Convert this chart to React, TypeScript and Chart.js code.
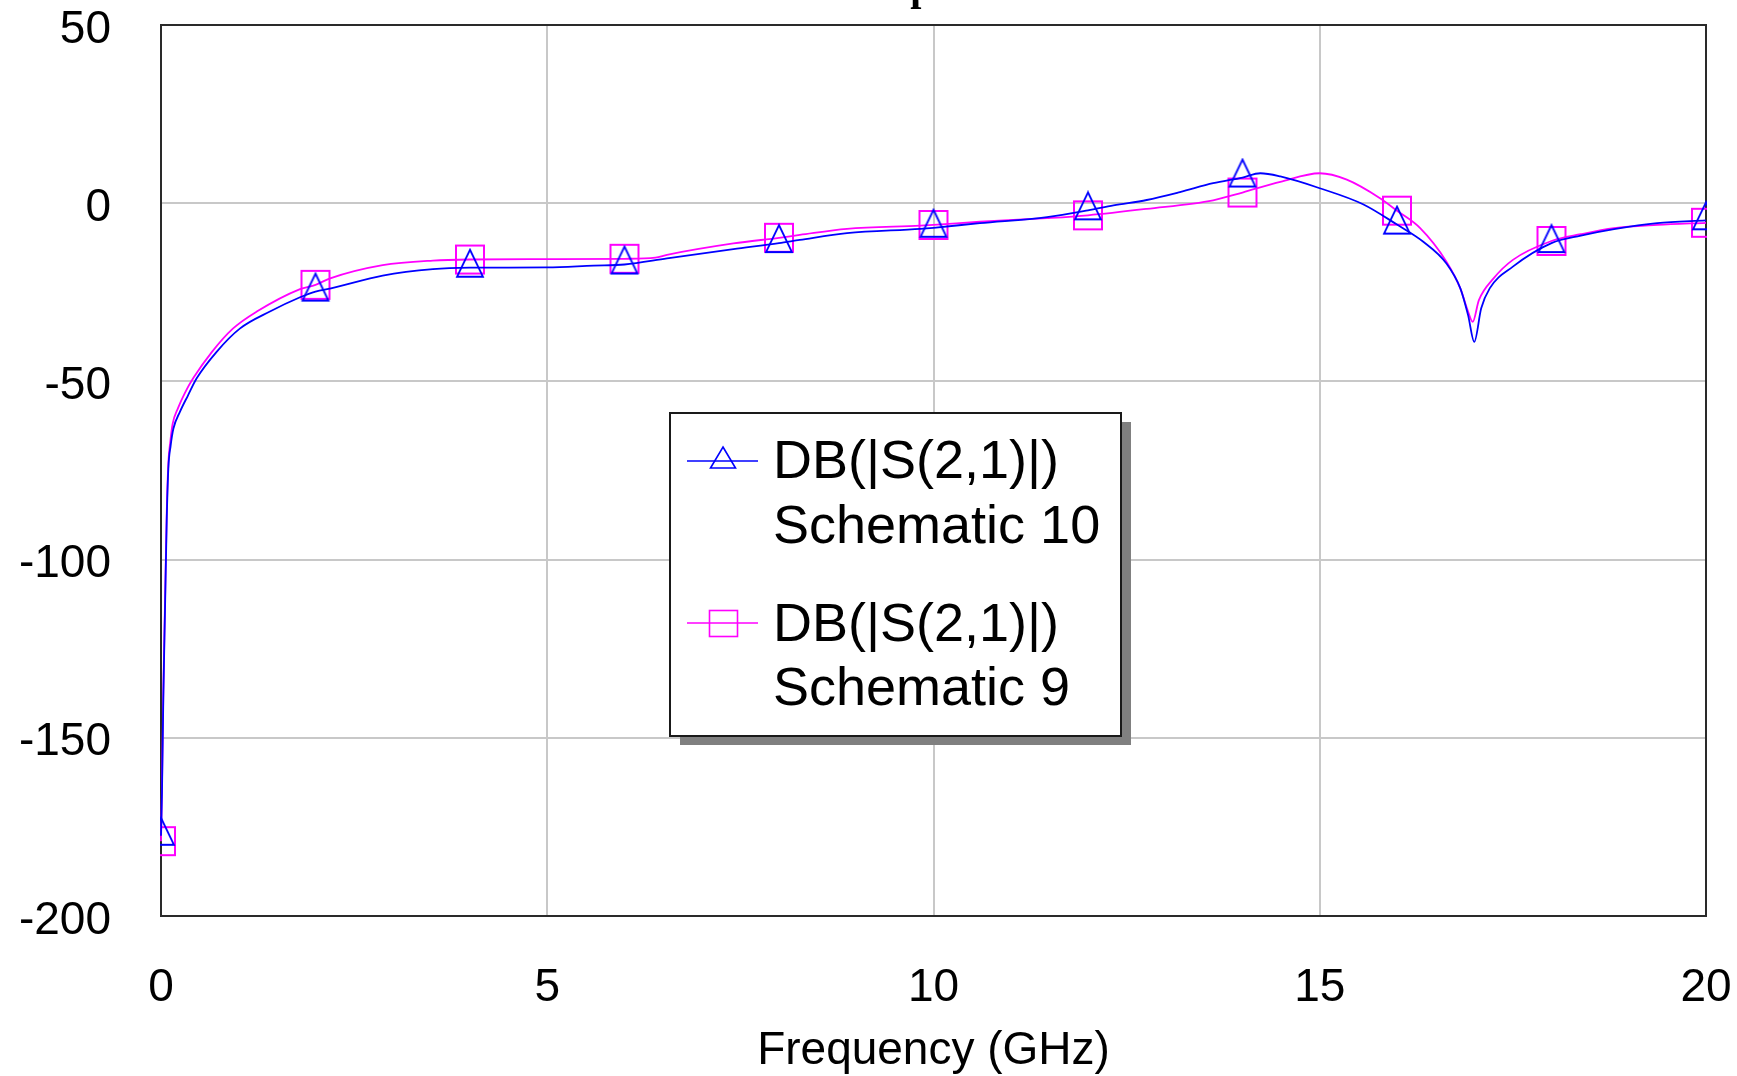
import React, { useEffect, useRef } from "react";
import { Chart, registerables } from "chart.js";

Chart.register(...registerables);

// ---------- data ----------
const chartTitle = "Comparison";
const xAxisTitle = "Frequency (GHz)";
const xMin = 0;
const xMax = 20;
const xStep = 5;
const yMin = -200;
const yMax = 50;
const yStep = 50;
const markerFreqs = [0, 2, 4, 6, 8, 10, 12, 14, 16, 18, 20];
const legendS10 = ["DB(|S(2,1)|)", "Schematic 10"];
const legendS9 = ["DB(|S(2,1)|)", "Schematic 9"];

// Schematic 10 (blue, triangles)
const freqS10 = [
  0, 0.013, 0.03, 0.052, 0.074, 0.095, 0.125, 0.16, 0.246, 0.35, 0.46, 0.72, 1.02, 1.41, 1.8,
  2.0, 2.2, 2.87, 3.52, 4.0, 5.0, 5.6, 6.0, 6.55, 7.41, 8.0, 8.27, 8.88, 9.83, 10.0, 10.6, 11.47,
  12.0, 12.33, 12.76, 13.19, 13.62, 14.0, 14.23, 14.49, 15.0, 15.56, 16.0, 16.34, 16.64, 16.82,
  16.92, 17.0, 17.09, 17.2, 17.5, 18.0, 18.38, 18.81, 19.37, 20.0,
];
const dbS10 = [
  -177.5, -165, -139, -114, -89, -74.5, -68, -63.3, -58.5, -53.9, -49.2, -41.7, -35.2, -30.4,
  -26.4, -24.8, -23.9, -20.3, -18.5, -18.1, -18.0, -17.5, -17.2, -15.5, -12.9, -11.2, -10.3,
  -8.4, -7.2, -6.9, -5.6, -3.9, -2.0, -0.6, 0.9, 3.1, 5.6, 7.2, 8.4, 7.5, 4.2, -0.3, -6.0,
  -10.8, -16.9, -23.9, -31.4, -38.9, -29.5, -23.9, -17.8, -11.2, -9.1, -7.3, -5.6, -4.8,
];

// Schematic 9 (magenta, squares)
const freqS9 = [
  0, 0.013, 0.03, 0.052, 0.074, 0.095, 0.12, 0.15, 0.22, 0.31, 0.42, 0.66, 0.93, 1.24, 1.8, 2.0,
  2.19, 2.87, 3.52, 4.0, 5.0, 6.0, 6.4, 6.55, 7.41, 8.0, 8.27, 8.88, 9.83, 10.0, 10.6, 11.47,
  12.0, 12.76, 13.62, 14.0, 14.49, 15.0, 15.35, 15.78, 16.0, 16.3, 16.64, 16.82, 16.92, 16.98,
  17.06, 17.25, 17.5, 18.0, 18.38, 18.81, 19.37, 20.0,
];
const dbS9 = [
  -179, -163, -137, -112, -87, -73, -67, -62, -57.5, -53.2, -49, -41.7, -35.2, -30.4, -24.1,
  -22.9, -21.1, -17.4, -16.1, -15.8, -15.7, -15.6, -15.3, -14.5, -11.3, -9.7, -8.9, -7.2, -6.3,
  -6.1, -5.2, -4.2, -3.4, -1.6, 0.8, 3.0, 6.0, 8.4, 6.6, 1.4, -2.1, -7.0, -16.4, -23.9, -30.4,
  -33.3, -27.2, -21.1, -15.9, -10.6, -8.7, -7.0, -6.1, -5.5,
];

const BLUE = "#0000ff";
const MAGENTA = "#ff00ff";
const FONT = '"Liberation Sans", Arial, sans-serif';

function makeTriangle(color: string, w: number, h: number): HTMLCanvasElement {
  const c = document.createElement("canvas");
  c.width = 40;
  c.height = 40;
  const g = c.getContext("2d")!;
  g.strokeStyle = color;
  g.lineWidth = 1.8;
  g.beginPath();
  g.moveTo(20, 20 - (2 * h) / 3);
  g.lineTo(20 + w / 2, 20 + h / 3);
  g.lineTo(20 - w / 2, 20 + h / 3);
  g.closePath();
  g.stroke();
  return c;
}

function makeSquare(color: string, s: number): HTMLCanvasElement {
  const c = document.createElement("canvas");
  c.width = 36;
  c.height = 36;
  const g = c.getContext("2d")!;
  g.strokeStyle = color;
  g.lineWidth = 2;
  g.strokeRect(18 - s / 2, 18 - s / 2, s, s);
  return c;
}

const toPoints = (xs: number[], ys: number[]) => xs.map((x, i) => ({ x, y: ys[i] }));

export default function App() {
  const ref = useRef<HTMLCanvasElement | null>(null);

  useEffect(() => {
    if (!ref.current) return;
    const tri = makeTriangle(BLUE, 26, 27);
    const sq = makeSquare(MAGENTA, 28);
    const markerRadius = (ctx: any) =>
      ctx.raw && markerFreqs.includes(ctx.raw.x) ? 14 : 0;

    const framePlugin = {
      id: "frame",
      beforeDatasetsDraw(chart: any) {
        const { ctx, chartArea: a } = chart;
        ctx.save();
        ctx.strokeStyle = "#2a2a2a";
        ctx.lineWidth = 2;
        ctx.strokeRect(a.left, a.top, a.right - a.left, a.bottom - a.top);
        ctx.restore();
      },
    };

    const overlayPlugin = {
      id: "overlay",
      afterDraw(chart: any) {
        const { ctx, chartArea: a } = chart;
        ctx.save();
        // title (mostly cut off above the canvas)
        ctx.font = 'bold 40px "Liberation Serif", "Times New Roman", serif';
        ctx.fillStyle = "#000";
        ctx.textAlign = "center";
        ctx.textBaseline = "alphabetic";
        ctx.fillText(chartTitle, (a.left + a.right) / 2, 0);

        // legend box
        const bx = 670, by = 413, bw = 451, bh = 323;
        ctx.fillStyle = "#808080";
        ctx.fillRect(bx + 10, by + 9, bw, bh);
        ctx.fillStyle = "#ffffff";
        ctx.fillRect(bx, by, bw, bh);
        ctx.strokeStyle = "#1a1a1a";
        ctx.lineWidth = 2;
        ctx.strokeRect(bx, by, bw, bh);

        // entry 1 symbol
        ctx.lineWidth = 1.6;
        ctx.strokeStyle = BLUE;
        ctx.beginPath();
        ctx.moveTo(687, 461);
        ctx.lineTo(758, 461);
        ctx.stroke();
        ctx.beginPath();
        ctx.moveTo(723, 447);
        ctx.lineTo(735.5, 468);
        ctx.lineTo(710.5, 468);
        ctx.closePath();
        ctx.stroke();

        // entry 2 symbol
        ctx.strokeStyle = MAGENTA;
        ctx.beginPath();
        ctx.moveTo(687, 623);
        ctx.lineTo(758, 623);
        ctx.stroke();
        ctx.strokeRect(709.5, 610.5, 28, 26);

        ctx.fillStyle = "#000";
        ctx.textAlign = "left";
        ctx.font = `54px ${FONT}`;
        ctx.fillText(legendS10[0], 773, 478);
        ctx.fillText(legendS10[1], 773, 543);
        ctx.fillText(legendS9[0], 773, 641);
        ctx.fillText(legendS9[1], 773, 705);
        ctx.restore();
      },
    };

    const chart = new Chart(ref.current, {
      type: "line",
      data: {
        datasets: [
          {
            label: legendS10.join(" "),
            data: toPoints(freqS10, dbS10),
            borderColor: BLUE,
            backgroundColor: BLUE,
            borderWidth: 1.8,
            cubicInterpolationMode: "monotone",
            pointStyle: tri as any,
            pointRadius: markerRadius,
            pointHoverRadius: markerRadius,
            clip: 1,
            fill: false,
          },
          {
            label: legendS9.join(" "),
            data: toPoints(freqS9, dbS9),
            borderColor: MAGENTA,
            backgroundColor: MAGENTA,
            borderWidth: 1.8,
            cubicInterpolationMode: "monotone",
            pointStyle: sq as any,
            pointRadius: markerRadius,
            pointHoverRadius: markerRadius,
            clip: 1,
            fill: false,
          },
        ],
      },
      options: {
        responsive: false,
        animation: false,
        events: [],
        layout: { autoPadding: false, padding: { left: 0, right: 31, top: 25, bottom: 0 } },
        plugins: {
          legend: { display: false },
          title: { display: false },
          tooltip: { enabled: false },
        },
        scales: {
          x: {
            type: "linear",
            min: xMin,
            max: xMax,
            afterFit: (s: any) => {
              s.height = 160;
              s.paddingLeft = 0;
              s.paddingRight = 0;
            },
            ticks: {
              stepSize: xStep,
              color: "#000",
              padding: 49,
              font: { family: FONT, size: 46, lineHeight: 1 },
              maxRotation: 0,
            },
            grid: { color: "#c8c8c8", lineWidth: 2, drawTicks: false },
            border: { display: false },
            title: {
              display: true,
              text: xAxisTitle,
              color: "#000",
              font: { family: FONT, size: 46, lineHeight: 1.2 },
              padding: { top: 0, bottom: -3 },
            },
          },
          y: {
            type: "linear",
            min: yMin,
            max: yMax,
            afterFit: (s: any) => {
              s.width = 161;
              s.paddingTop = 0;
              s.paddingBottom = 0;
            },
            ticks: {
              stepSize: yStep,
              color: "#000",
              padding: 50,
              labelOffset: 5,
              font: { family: FONT, size: 46, lineHeight: 1 },
            },
            grid: { color: "#c8c8c8", lineWidth: 2, drawTicks: false },
            border: { display: false },
          },
        },
      },
      plugins: [framePlugin, overlayPlugin],
    } as any);

    return () => chart.destroy();
  }, []);

  return (
    <div
      style={{
        position: "fixed",
        left: 0,
        top: 0,
        width: 1737,
        height: 1076,
        background: "#fff",
        overflow: "hidden",
      }}
    >
      <canvas ref={ref} width={1737} height={1076} style={{ display: "block" }} />
    </div>
  );
}
